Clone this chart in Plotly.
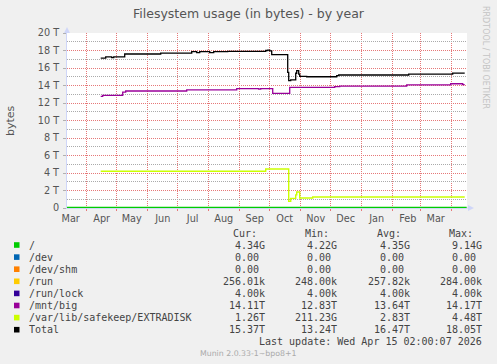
import pandas as pd
import plotly.graph_objects as go

TITLE = "Filesystem usage (in bytes) - by year"
Y_LABEL = "bytes"
WATERMARK = "RRDTOOL / TOBI OETIKER"
LAST_UPDATE = "Last update: Wed Apr 15 02:00:07 2026"
VERSION = "Munin 2.0.33-1~bpo8+1"

# ---- axis data ----
x_range = ["2025-03-12 07:00", "2026-04-16 07:00"]
month_starts = ["2025-03-01", "2025-04-01", "2025-05-01", "2025-06-01", "2025-07-01",
                "2025-08-01", "2025-09-01", "2025-10-01", "2025-11-01", "2025-12-01",
                "2026-01-01", "2026-02-01", "2026-03-01", "2026-04-01"]
month_labels = ["Mar", "Apr", "May", "Jun", "Jul", "Aug", "Sep", "Oct", "Nov", "Dec",
                "Jan", "Feb", "Mar"]
y_major_T = [0, 2, 4, 6, 8, 10, 12, 14, 16, 18, 20]
y_major_text = ["0", "2 T", "4 T", "6 T", "8 T", "10 T", "12 T", "14 T", "16 T", "18 T", "20 T"]
y_minor_T = list(range(0, 21))

# ---- series data (values in T unless noted) ----
total_dates = ["2025-04-15", "2025-04-20", "2025-04-26", "2025-04-28", "2025-05-09",
               "2025-06-14", "2025-07-15", "2025-07-20", "2025-07-23", "2025-08-02",
               "2025-08-06", "2025-08-20", "2025-09-27", "2025-09-29", "2025-10-01",
               "2025-10-03", "2025-10-19", "2025-10-20", "2025-10-22", "2025-10-27",
               "2025-10-28", "2025-10-30", "2025-10-31", "2025-11-07", "2025-12-07",
               "2025-12-09", "2026-02-17", "2026-04-02", "2026-04-14"]
total_vals = [17.14, 17.26, 17.18, 17.26, 17.60,
              17.71, 17.86, 17.75, 17.86, 17.75,
              17.86, 17.90, 18.00, 18.05, 17.95,
              17.52, 15.50, 14.55, 14.65, 15.40,
              15.69, 15.30, 15.04, 15.00, 15.12,
              15.20, 15.31, 15.42, 15.42]

mnt_dates = ["2025-04-15", "2025-04-17", "2025-05-07", "2025-05-10", "2025-07-10",
             "2025-08-29", "2025-09-20", "2025-09-22", "2025-10-04", "2025-10-21",
             "2025-12-05", "2025-12-10", "2026-02-15", "2026-03-31", "2026-04-12",
             "2026-04-14"]
mnt_vals = [12.76, 12.87, 13.25, 13.37, 13.50,
            13.65, 13.58, 13.65, 13.10, 13.78,
            13.86, 13.92, 14.06, 14.20, 14.11,
            14.11]

extra_dates = ["2025-04-15", "2025-09-27", "2025-10-20", "2025-10-22", "2025-10-27",
               "2025-10-28", "2025-10-31", "2025-11-13", "2026-04-14"]
extra_vals = [4.20, 4.45, 0.76, 1.10, 1.50,
              1.83, 1.14, 1.26, 1.26]

root_dates = ["2025-03-12", "2025-06-01", "2025-11-01", "2026-04-16"]
root_vals_G = [4.30, 4.35, 4.34, 4.34]

zero_dates = ["2025-04-15", "2026-04-14"]
dev_vals = [0.0, 0.0]
shm_vals = [0.0, 0.0]
run_vals_k = [256.0, 256.01]
runlock_vals_k = [4.0, 4.0]

# ---- legend table ----
legend_labels = ["/", "/dev", "/dev/shm", "/run", "/run/lock", "/mnt/big",
                 "/var/lib/safekeep/EXTRADISK", "Total"]
legend_colors = ["#00CC00", "#0066B3", "#FF8000", "#FFCC00", "#330099", "#990099",
                 "#CCFF00", "#000000"]
cur_vals = ["4.34G", "0.00", "0.00", "256.01k", "4.00k", "14.11T", "1.26T", "15.37T"]
min_vals = ["4.22G", "0.00", "0.00", "248.00k", "4.00k", "12.83T", "211.23G", "13.24T"]
avg_vals = ["4.35G", "0.00", "0.00", "257.82k", "4.00k", "13.64T", "2.83T", "16.47T"]
max_vals = ["9.14G", "0.00", "0.00", "284.00k", "4.00k", "14.17T", "4.48T", "18.05T"]
col_headers = ["Cur:", "Min:", "Avg:", "Max:"]

T = 1e12
G = 1e9
K = 1e3

W, H = 497, 364
ML, MR, MT, MB = 67, 30, 33, 156
PW, PH = W - ML - MR, H - MT - MB


def px_x(px):
    return (px - ML) / PW


def px_y(py):
    return 1 - (py - MT) / PH


fig = go.Figure()


def add_line(dates, vals, scale, color, width):
    fig.add_trace(go.Scatter(
        x=dates, y=[v * scale for v in vals], mode="lines",
        line=dict(color=color, width=width, shape="hv"),
        hoverinfo="skip", showlegend=False))


add_line(zero_dates, dev_vals, 1, legend_colors[1], 1)
add_line(zero_dates, shm_vals, 1, legend_colors[2], 1)
add_line(zero_dates, run_vals_k, K, legend_colors[3], 1)
add_line(zero_dates, runlock_vals_k, K, legend_colors[4], 1)
add_line(root_dates, root_vals_G, G, legend_colors[0], 2.2)
add_line(mnt_dates, mnt_vals, T, legend_colors[5], 1.3)
add_line(extra_dates, extra_vals, T, legend_colors[6], 1.4)
add_line(total_dates, total_vals, T, legend_colors[7], 1.3)

label_pos = [pd.Timestamp(d) + pd.Timedelta(days=15) for d in month_starts[:-1]]

MGRID = "#E67878"
GRID = "#AAAAAA"
AXIS = "#CFD6F8"
FONT = "DejaVu Sans"
MONO = "DejaVu Sans Mono"
DASH = "1px,1px"

fig.update_xaxes(
    type="date", range=x_range,
    tickmode="array", tickvals=label_pos, ticktext=month_labels,
    showgrid=False, ticks="", ticklabelstandoff=1,
    tickfont=dict(family=FONT, size=9.7, color="#555555"),
    showline=True, linecolor=AXIS, linewidth=1, zeroline=False,
    minor=dict(tickmode="array", tickvals=month_starts, showgrid=True,
               gridcolor=MGRID, griddash=DASH, gridwidth=1,
               ticks="outside", ticklen=2, tickcolor=MGRID),
    fixedrange=True,
)
fig.update_yaxes(
    range=[0, 20 * T],
    tickmode="array", tickvals=[v * T for v in y_major_T], ticktext=y_major_text,
    showgrid=True, gridcolor=MGRID, griddash=DASH, gridwidth=1,
    ticks="outside", ticklen=3, tickcolor="#B0B0B0", ticklabelstandoff=2,
    tickfont=dict(family=FONT, size=9.7, color="#555555"),
    showline=True, linecolor=AXIS, linewidth=1, zeroline=False,
    minor=dict(tickmode="array", tickvals=[v * T for v in y_minor_T], showgrid=True,
               gridcolor=GRID, griddash=DASH, gridwidth=1),
    fixedrange=True,
)

annotations = []
shapes = []

# y axis label
annotations.append(dict(x=px_x(10), y=px_y(121), xref="paper", yref="paper",
                        text=Y_LABEL, textangle=-90, showarrow=False,
                        font=dict(family=FONT, size=11, color="#555555"),
                        xanchor="center", yanchor="middle"))
# watermark right
annotations.append(dict(x=px_x(486), y=px_y(57), xref="paper", yref="paper",
                        text=WATERMARK, textangle=90, showarrow=False,
                        font=dict(family=FONT, size=8, color="#C4C4C4"),
                        xanchor="center", yanchor="middle"))

# arrows
shapes.append(dict(type="path", xref="paper", yref="paper",
                   path=f"M {px_x(64)} {px_y(33)} L {px_x(70)} {px_y(33)} L {px_x(67)} {px_y(27)} Z",
                   fillcolor=AXIS, line=dict(width=0)))
shapes.append(dict(type="line", xref="paper", yref="paper",
                   x0=px_x(467), x1=px_x(469), y0=px_y(208), y1=px_y(208),
                   line=dict(color=AXIS, width=1)))
shapes.append(dict(type="path", xref="paper", yref="paper",
                   path=f"M {px_x(468)} {px_y(205)} L {px_x(468)} {px_y(211)} L {px_x(474)} {px_y(208)} Z",
                   fillcolor=AXIS, line=dict(width=0)))

# legend table
TXT = "#444444"
header_x = [230.5, 303, 375, 447]
for hx, htxt in zip(header_x, col_headers):
    annotations.append(dict(x=px_x(hx), y=px_y(233.5), xref="paper", yref="paper",
                            text=htxt, showarrow=False, xanchor="left", yanchor="middle",
                            font=dict(family=MONO, size=10, color=TXT)))

col_right = [266.5, 339, 411.5, 483.5]
for i, lab in enumerate(legend_labels):
    ry = 245 + i * 12.1
    shapes.append(dict(type="rect", xref="paper", yref="paper",
                       x0=px_x(14), x1=px_x(19.5), y0=px_y(ry + 2.8), y1=px_y(ry - 2.8),
                       fillcolor=legend_colors[i], line=dict(width=0)))
    annotations.append(dict(x=px_x(27), y=px_y(ry), xref="paper", yref="paper",
                            text=lab, showarrow=False, xanchor="left", yanchor="middle",
                            font=dict(family=MONO, size=10, color=TXT)))
    for cx, vals in zip(col_right, [cur_vals, min_vals, avg_vals, max_vals]):
        v = vals[i]
        if v[-1].isdigit():
            v = v + "\u00a0"
        annotations.append(dict(x=px_x(cx), y=px_y(ry), xref="paper", yref="paper",
                                text=v, showarrow=False, xanchor="right", yanchor="middle",
                                font=dict(family=MONO, size=10, color=TXT)))

annotations.append(dict(x=px_x(483.5), y=px_y(341.5), xref="paper", yref="paper",
                        text=LAST_UPDATE.replace(" ", "\u00a0"), showarrow=False,
                        xanchor="right", yanchor="middle",
                        font=dict(family=MONO, size=10, color=TXT)))
annotations.append(dict(x=px_x(248), y=px_y(353.3), xref="paper", yref="paper",
                        text=VERSION, showarrow=False, xanchor="center", yanchor="middle",
                        font=dict(family=FONT, size=7.8, color="#AAAAAA")))

fig.update_layout(
    width=W, height=H,
    margin=dict(l=ML, r=MR, t=MT, b=MB, pad=0),
    paper_bgcolor="#F0F0F0", plot_bgcolor="#FFFFFF",
    title=dict(text=TITLE, x=0.5, xref="container", xanchor="center",
               y=1 - 14 / H, yref="container", yanchor="middle",
               font=dict(family=FONT, size=12.5, color="#555555")),
    annotations=annotations, shapes=shapes,
    showlegend=False, hovermode=False,
)

fig.write_html("out.html", config={"displayModeBar": False, "staticPlot": True},
               post_script="document.body.style.margin='0';")
